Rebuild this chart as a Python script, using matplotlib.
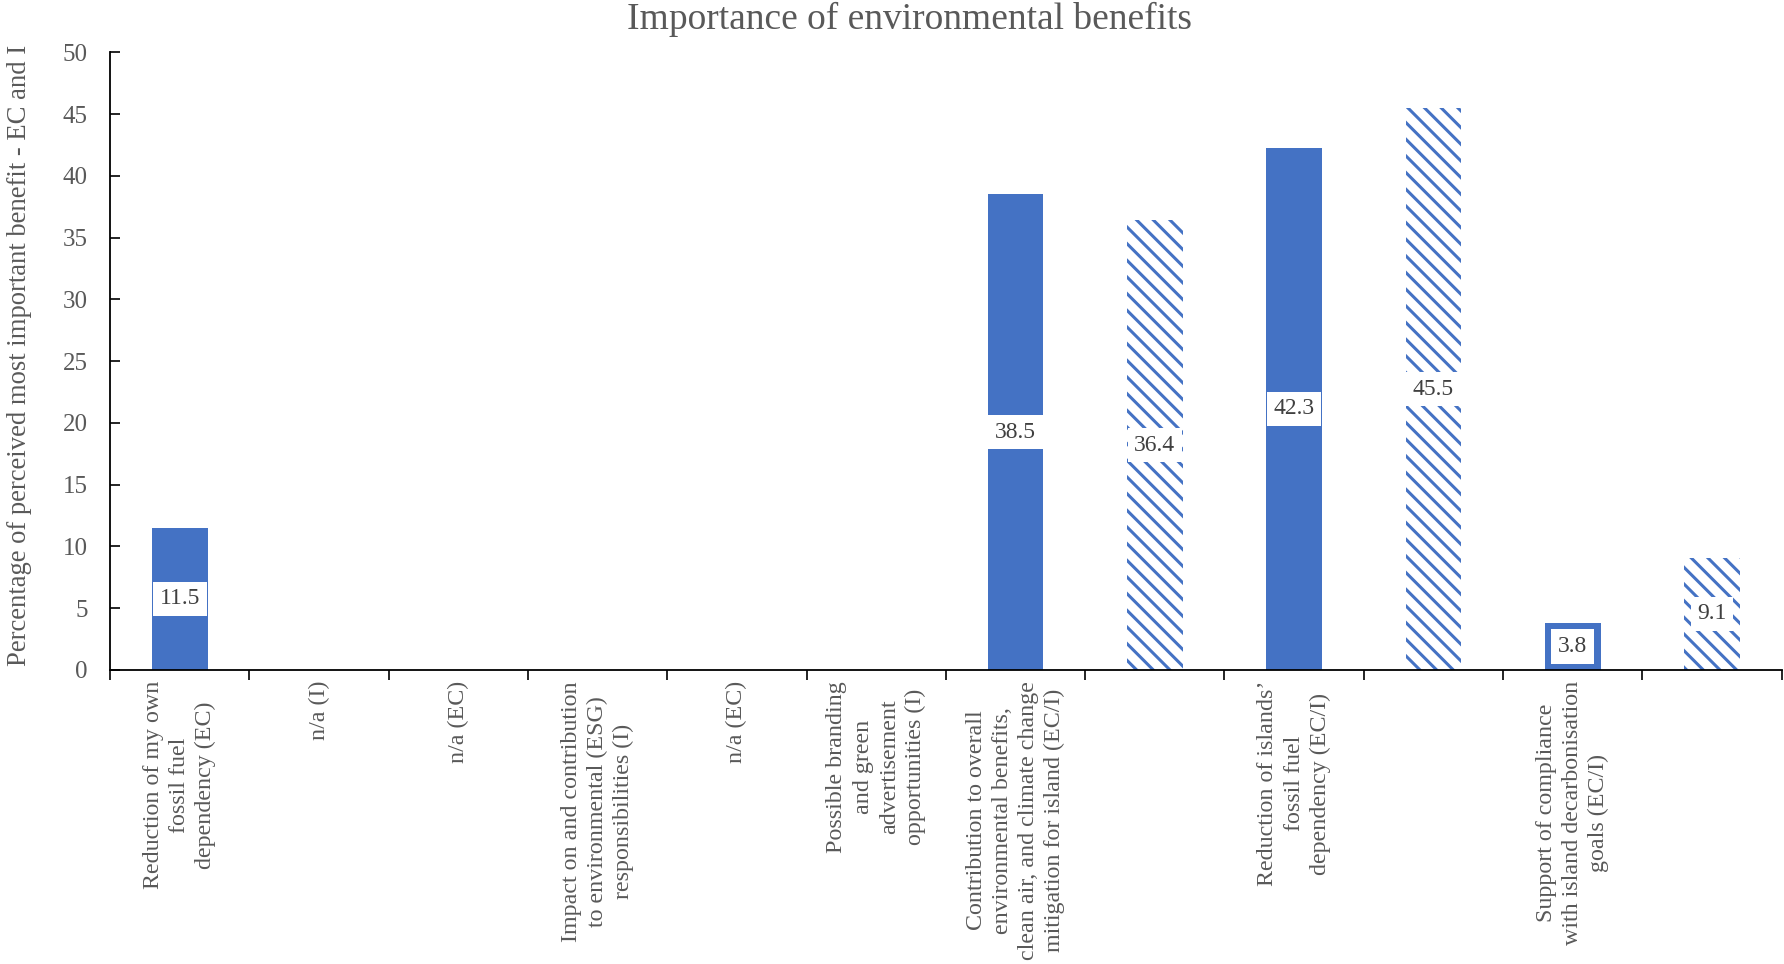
import matplotlib
matplotlib.use("Agg")
import matplotlib.pyplot as plt

plt.rcParams['font.family'] = ['Liberation Serif', 'DejaVu Serif']
plt.rcParams['hatch.linewidth'] = 2.2

# Category labels, one slot per position on the x axis
categories = [
    "Reduction of my own\nfossil fuel\ndependency (EC)",
    "n/a (I)",
    "n/a (EC)",
    "Impact on and contribution\nto environmental (ESG)\nresponsibilities (I)",
    "n/a (EC)",
    "Possible branding\nand green\nadvertisement\nopportunities (I)",
    "Contribution to overall\nenvironmental benefits,\nclean air, and climate change\nmitigation for island (EC/I)",
    "",
    "Reduction of islands\u2019\nfossil fuel\ndependency (EC/I)",
    "",
    "Support of compliance\nwith island decarbonisation\ngoals (EC/I)",
    "",
]

# Percentages (None = no bar in that slot)
values = [11.5, None, None, None, None, None, 38.5, 36.4, 42.3, 45.5, 3.8, 9.1]
# Group of respondents: EC = solid, I = hatched
groups = ["EC", None, None, None, None, None, "EC", "I", "EC", "I", "EC", "I"]

yticks = [0, 5, 10, 15, 20, 25, 30, 35, 40, 45, 50]

BLUE = "#4472C4"
GREY = "#595959"

fig = plt.figure(figsize=(17.84, 9.64), dpi=100)
ax = fig.add_axes([0.0617, 0.305, 0.937, 0.6406])

centers = [i + 0.5 for i in range(len(categories))]
for x, v, g in zip(centers, values, groups):
    if v is None:
        continue
    if g == "EC":
        ax.bar(x, v, width=0.4, color=BLUE, linewidth=0)
    else:
        ax.bar(x, v, width=0.4, facecolor="white", edgecolor=BLUE,
               hatch="\\\\", linewidth=0)
    ax.text(x, v / 2, f"{v:.1f}", ha="center", va="center", fontsize=17,
            color="#404040",
            bbox=dict(boxstyle="square,pad=0.28", facecolor="white",
                      edgecolor="none", linewidth=0))

ax.set_xlim(0, len(categories))
ax.set_ylim(0, 50)
ax.set_yticks(yticks)
ax.tick_params(axis="y", direction="in", length=7, width=1.2,
               labelsize=18, labelcolor=GREY, pad=16)

ax.set_xticks(range(len(categories) + 1))
ax.set_xticklabels([])
ax.tick_params(axis="x", which="major", direction="out", length=7, width=1.2)
ax.set_xticks(centers, minor=True)
ax.set_xticklabels(categories, minor=True, rotation=90, ha="center",
                   va="top", multialignment="center", fontsize=17.3,
                   color=GREY, linespacing=1.32)
ax.tick_params(axis="x", which="minor", length=0, pad=8)

for side in ("top", "right"):
    ax.spines[side].set_visible(False)
for side in ("left", "bottom"):
    ax.spines[side].set_linewidth(1.3)

ax.set_ylabel("Percentage of perceived most important benefit - EC and I",
              fontsize=19.2, color=GREY)
ax.yaxis.set_label_coords(-0.047, 0.51)

fig.text(0.51, 0.998, "Importance of environmental benefits", fontsize=27,
         color=GREY, ha="center", va="top")

fig.savefig("out.png", dpi=100)
